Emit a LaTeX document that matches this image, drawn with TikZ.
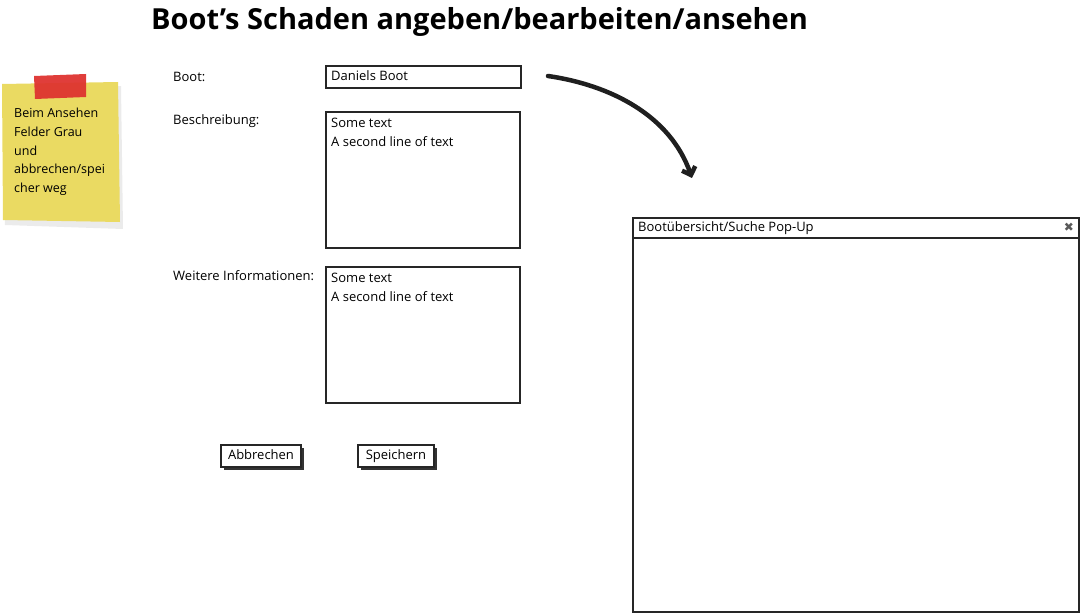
\documentclass[tikz,border=0pt]{standalone}
\usepackage{fontspec}
\setmainfont{Open Sans}
\newfontfamily\symfont{DejaVu Sans}
\usetikzlibrary{arrows.meta,shadows}
\definecolor{notey}{RGB}{234,218,98}
\definecolor{tape}{RGB}{222,52,48}
\tikzset{
  txt/.style={anchor=west, inner sep=0pt, font=\fontsize{13}{15}\selectfont},
  field/.style={draw=black!85, line width=1.6pt, fill=white},
  btn/.style={draw=black!85, line width=1.3pt, fill=white, inner sep=0pt, minimum height=22pt,
     text height=9.5pt, text depth=3pt,
     font=\fontsize{13}{15}\selectfont, drop shadow={shadow xshift=2.5pt, shadow yshift=-2.5pt, opacity=1, fill=black!80}},
  note/.style={anchor=west, inner sep=0pt, font=\fontsize{12.5}{14}\selectfont},
}
\begin{document}
\begin{tikzpicture}[x=1pt,y=-1pt]
\useasboundingbox (0,0) rectangle (1082,615);
% title
\node[anchor=west, inner sep=0pt, font=\bfseries\fontsize{29}{34}\selectfont] (title) at (151,22) {Boot's Schaden angeben/bearbeiten/ansehen};
% sticky note
\fill[black!8] (4,88) -- (121,86) -- (123,229) -- (5,225) -- cycle;
\fill[notey] (2,84) -- (118,82) -- (120,222) -- (3,220) -- cycle;
\fill[tape, opacity=0.95] (34,76) -- (86,74) -- (86,97) -- (35,99) -- cycle;
\node[note] (n1) at (14,113) {Beim Ansehen};
\node[note] (n2) at (14,132) {Felder Grau};
\node[note] (n3) at (14,151) {und};
\node[note] (n4) at (14,170) {abbrechen/spei};
\node[note] (n5) at (14,189) {cher weg};
% labels
\node[txt] (lboot) at (173,77) {Boot:};
\node[txt] (lbes) at (173,121) {Beschreibung:};
\node[txt] (lwei) at (173,276) {Weitere Informationen:};
% fields
\draw[field] (326,66) rectangle (521,88);
\node[txt] (fboot) at (331,76) {Daniels Boot};
\draw[field] (326,112) rectangle (520,248);
\node[txt] (b1) at (331,123) {Some text};
\node[txt] (b2) at (331,142) {A second line of text};
\draw[field] (326,267) rectangle (520,403);
\node[txt] (w1) at (331,278) {Some text};
\node[txt] (w2) at (331,297) {A second line of text};
% buttons
\node[btn, minimum width=80pt] (abbr) at (261,456) {Abbrechen};
\node[btn, minimum width=76pt] (speich) at (396,456) {Speichern};
% popup
\draw[field, line width=1.6pt] (633,218) rectangle (1079,612);
\draw[black!85, line width=1.6pt] (633,238) -- (1079,238);
\node[txt] (ptitle) at (638,228) {Bootübersicht/Suche Pop-Up};
\node[inner sep=0pt, text=black!65, font=\symfont\fontsize{12}{12}\selectfont] (pclose) at (1069,227) {✖};
% arrow
\coordinate (as) at (548,76);
\coordinate (ae) at (692,178);
\draw[line width=4.5pt, line cap=round, black!88, -{Straight Barb[length=7pt, width=14pt, line width=4.5pt]}]
  (as) .. controls (610,85) and (670,115) .. (ae);
\end{tikzpicture}
\end{document}
